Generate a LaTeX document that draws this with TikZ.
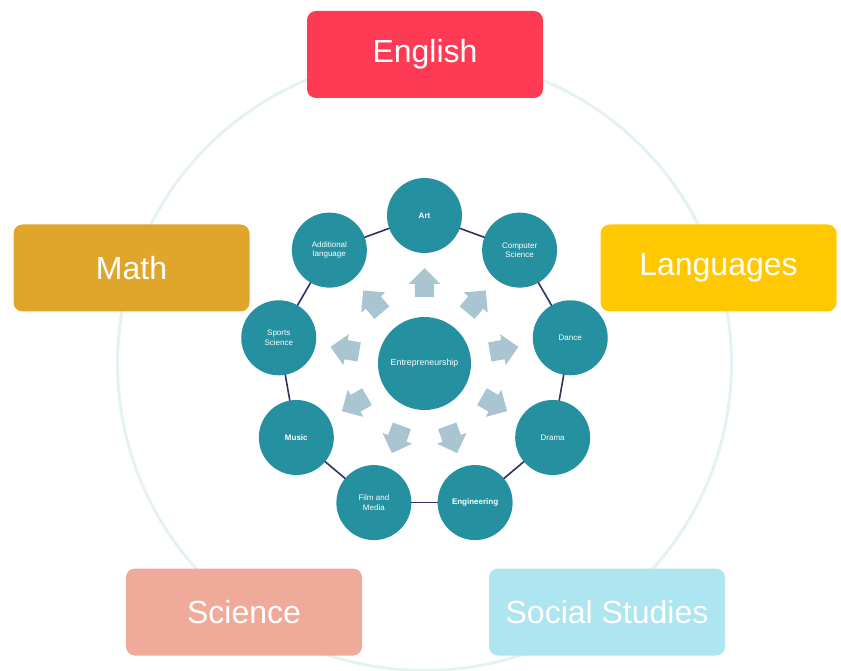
\documentclass[tikz,border=0pt]{standalone}
\usepackage{fontspec}
\setmainfont{Liberation Sans}
\usetikzlibrary{shapes.arrows}
\definecolor{hubteal}{HTML}{2590A0}
\definecolor{spokeblue}{HTML}{A8C5D1}
\definecolor{ringnavy}{HTML}{2E3266}
\definecolor{haze}{HTML}{E4F2F5}
\definecolor{englishred}{HTML}{FF3A55}
\definecolor{mathgold}{HTML}{E0A52B}
\definecolor{langyellow}{HTML}{FFC800}
\definecolor{sciencepink}{HTML}{F0AA9A}
\definecolor{socialcyan}{HTML}{ADE5F0}
\begin{document}
\begin{tikzpicture}[x=1pt, y=1pt, line join=round, line cap=round,
  subj/.style={rounded corners=9pt, minimum width=236pt, minimum height=87pt, text=white, font=\fontsize{32}{36}\selectfont},
  topic/.style={circle, fill=hubteal, minimum size=75pt, inner sep=1pt, text=white, align=center, font=\fontsize{8}{9.5}\selectfont},
  spoke/.style={single arrow, fill=spokeblue, minimum height=29pt, inner xsep=0pt, inner ysep=9.5pt, single arrow head extend=6pt}]
\def\R{148}
\useasboundingbox (0,0) rectangle (841,670);
\coordinate (o) at (424.5,306.5);
\draw[haze, line width=3pt] (o) circle (307);
% subjects
\node[subj, fill=englishred] (english) at (425,615.5) {English};
\node[subj, fill=mathgold] (math) at (131.5,402) {Math};
\node[subj, fill=langyellow] (languages) at (718.5,402) {Languages};
\node[subj, fill=sciencepink] (science) at (244,58) {Science};
\node[subj, fill=socialcyan] (social) at (607,58) {Social Studies};
% hub and ring
\node[topic, minimum size=93pt, font=\fontsize{8.8}{10}\selectfont] (hub) at (o) {Entrepreneurship};
\foreach \n/\a/\t in {art/90/{\textbf{Art}}, cs/50/{Computer\\Science}, dance/10/{Dance}, drama/-30/{Drama},
  eng/-70/{\textbf{Engineering}}, film/-110/{Film and\\Media}, music/-150/{\textbf{Music}},
  sports/170/{Sports\\Science}, addl/130/{Additional\\language}}
  \node[topic] (\n) at ([shift={(\a:\R)}]o) {\t};
\foreach \p/\q in {art/cs, cs/dance, dance/drama, drama/eng, eng/film, film/music, music/sports, sports/addl, addl/art}
  \draw[ringnavy, line width=1.6pt] (\p) -- (\q);
\foreach \a [count=\i] in {90,50,10,-30,-70,-110,-150,170,130}
  \node[spoke, rotate=\a] (arr\i) at ([shift={(\a:76)}]o) {};
\end{tikzpicture}
\end{document}
